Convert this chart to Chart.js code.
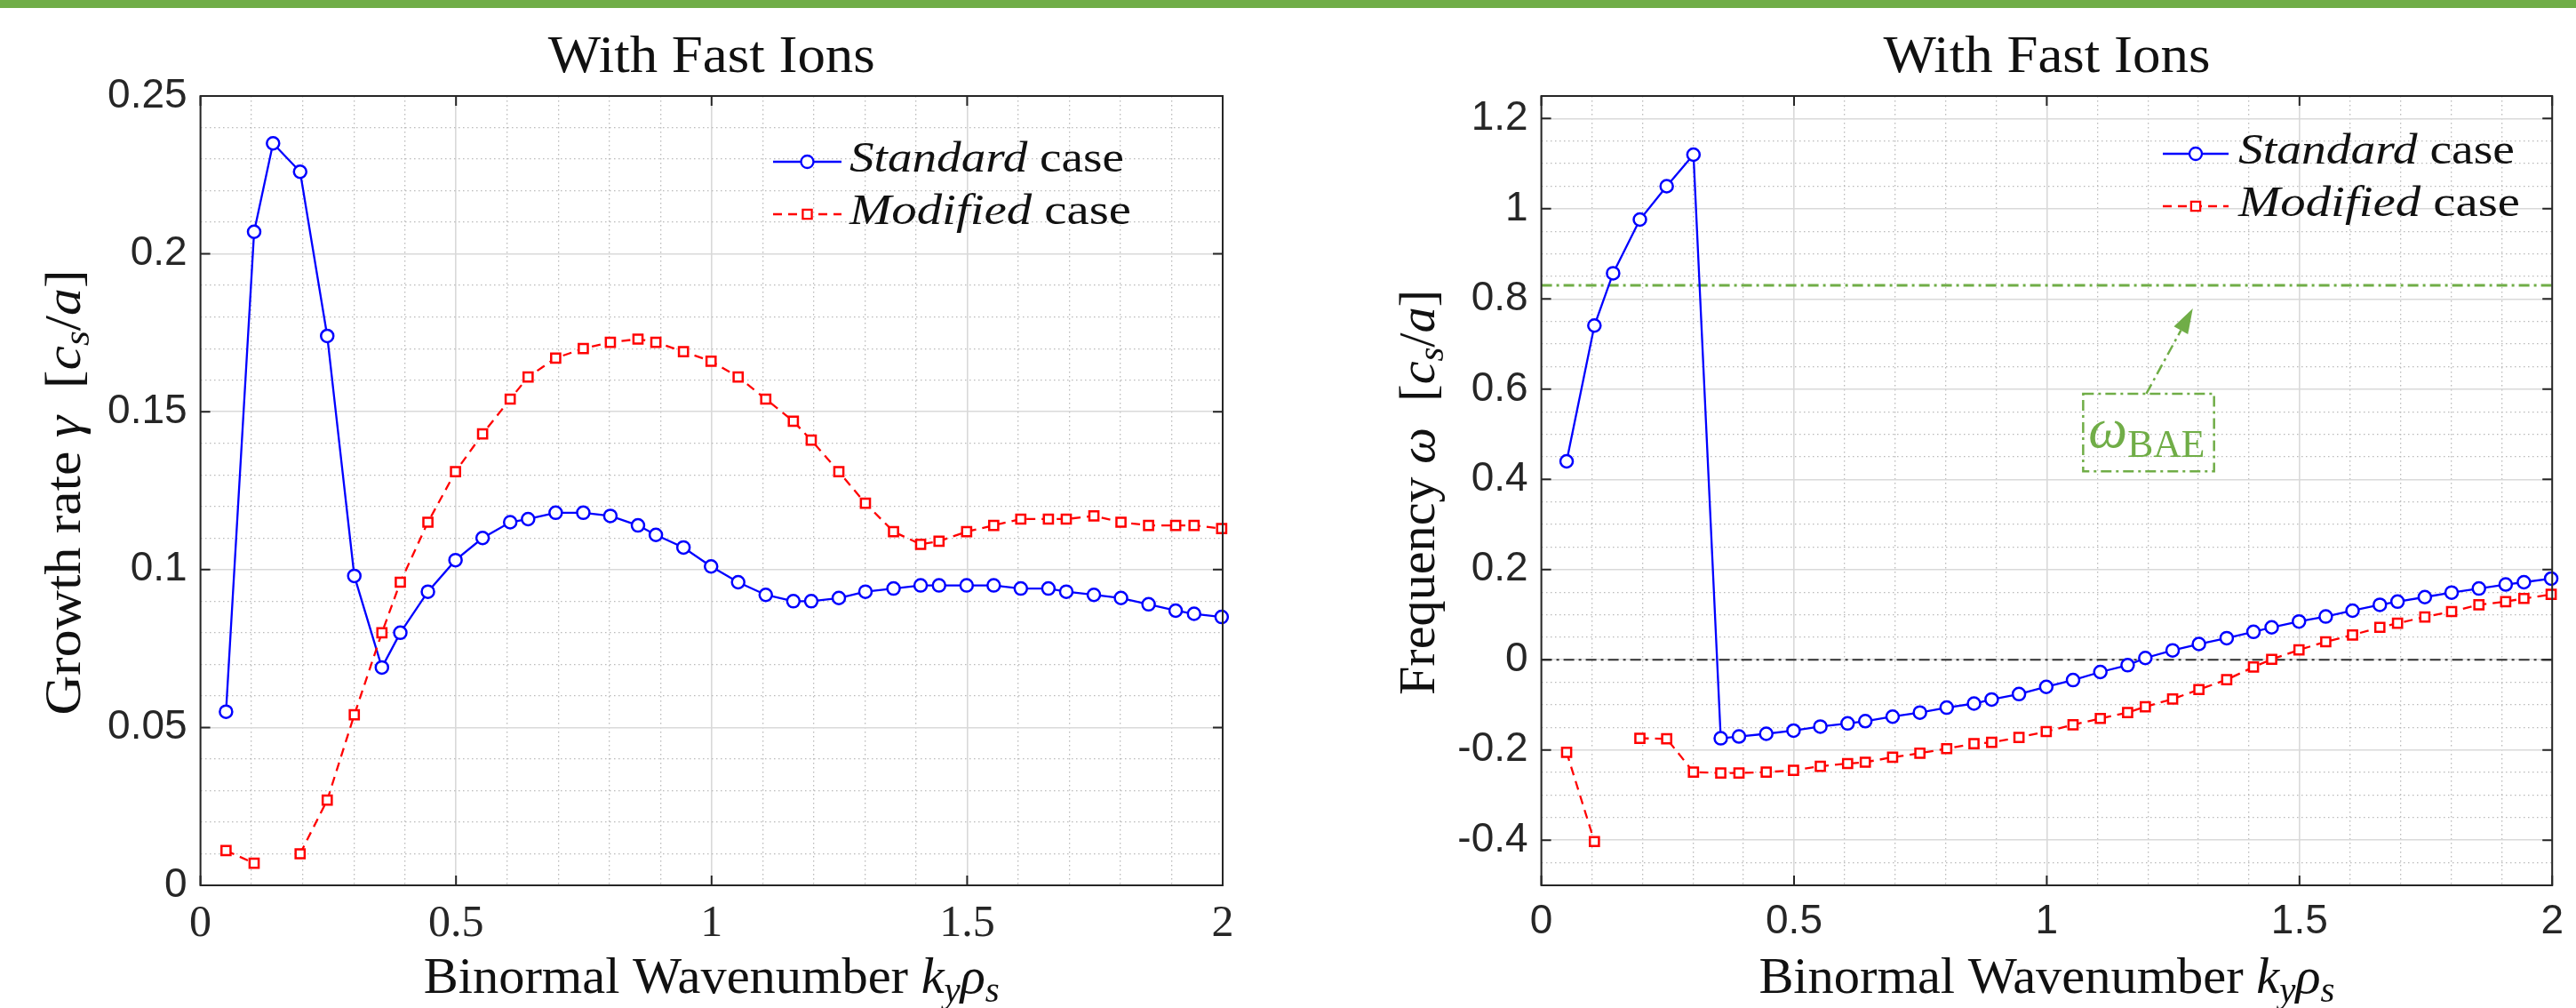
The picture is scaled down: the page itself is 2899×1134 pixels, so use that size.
<!DOCTYPE html>
<html>
<head>
<meta charset="utf-8">
<title>With Fast Ions</title>
<script src="https://cdn.jsdelivr.net/npm/chart.js@4.4.1/dist/chart.umd.min.js"></script>
<style>
  html, body { margin: 0; padding: 0; background: #fff; }
  body { width: 2899px; height: 1134px; position: relative; overflow: hidden; }
  .topbar { position: absolute; left: 0; top: 0; width: 2899px; height: 9px; background: #70ad47; }
  .panel { position: absolute; top: 0; width: 1450px; height: 1134px; }
  #leftPanel { left: 0; }
  #rightPanel { left: 1449px; }
</style>
</head>
<body>
<div class="topbar"></div>
<div class="panel" id="leftPanel"><canvas id="growthChart"></canvas></div>
<div class="panel" id="rightPanel"><canvas id="freqChart"></canvas></div>
<script>
// binormal wavenumber k_y rho_s
var ky = [0.05, 0.105, 0.142, 0.195, 0.248, 0.301, 0.355, 0.391, 0.445, 0.499,
          0.552, 0.606, 0.641, 0.695, 0.749, 0.802, 0.856, 0.891, 0.945, 0.999,
          1.052, 1.106, 1.16, 1.195, 1.249, 1.301, 1.356, 1.409, 1.445, 1.499,
          1.552, 1.605, 1.659, 1.694, 1.748, 1.801, 1.855, 1.908, 1.944, 1.998];

// growth rate gamma [c_s/a]
var gammaStandard = [0.055, 0.207, 0.235, 0.226, 0.174, 0.098, 0.069, 0.080, 0.093, 0.103,
                     0.110, 0.115, 0.116, 0.118, 0.118, 0.117, 0.114, 0.111, 0.107, 0.101,
                     0.096, 0.092, 0.090, 0.090, 0.091, 0.093, 0.094, 0.095, 0.095, 0.095,
                     0.095, 0.094, 0.094, 0.093, 0.092, 0.091, 0.089, 0.087, 0.086, 0.085];
var gammaModified = [0.011, 0.007, null, 0.010, 0.027, 0.054, 0.080, 0.096, 0.115, 0.131,
                     0.143, 0.154, 0.161, 0.167, 0.170, 0.172, 0.173, 0.172, 0.169, 0.166,
                     0.161, 0.154, 0.147, 0.141, 0.131, 0.121, 0.112, 0.108, 0.109, 0.112,
                     0.114, 0.116, 0.116, 0.116, 0.117, 0.115, 0.114, 0.114, 0.114, 0.113];

// real frequency omega [c_s/a]
var omegaStandard = [0.44, 0.741, 0.857, 0.976, 1.05, 1.12, -0.174, -0.170, -0.164, -0.157,
                     -0.148, -0.141, -0.136, -0.126, -0.117, -0.106, -0.097, -0.088, -0.076, -0.060,
                     -0.045, -0.027, -0.012, 0.004, 0.021, 0.035, 0.048, 0.062, 0.072, 0.085,
                     0.096, 0.109, 0.122, 0.129, 0.139, 0.149, 0.158, 0.167, 0.172, 0.180];
var omegaModified = [-0.205, -0.403, null, -0.174, -0.175, -0.249, -0.251, -0.251, -0.249, -0.245,
                     -0.236, -0.230, -0.227, -0.216, -0.207, -0.197, -0.186, -0.183, -0.172, -0.159,
                     -0.144, -0.130, -0.117, -0.104, -0.087, -0.066, -0.044, -0.016, 0.001, 0.022,
                     0.040, 0.055, 0.072, 0.081, 0.095, 0.107, 0.122, 0.129, 0.136, 0.145];

// BAE frequency and the zero reference
var omegaBAE = 0.83;
var omegaZero = 0;
var kyRange = [0, 2];

// major tick labels
var xTickLabels = [0, 0.5, 1, 1.5, 2];
var gammaTickLabels = [0, 0.05, 0.1, 0.15, 0.2, 0.25];
var omegaTickLabels = [-0.4, -0.2, 0, 0.2, 0.4, 0.6, 0.8, 1, 1.2];

// omega_BAE label box and arrow, in data units
var baeBox = { x0: 1.072, x1: 1.331, y0: 0.418, y1: 0.590 };
var baeArrow = { x0: 1.197, y0: 0.590, x1: 1.289, y1: 0.779 };

var SERIF = '"Liberation Serif", "Times New Roman", serif';
var SANS = '"Liberation Sans", Arial, sans-serif';
var BLUE = '#0000ff', RED = '#ff0000', GREEN = '#70ad47', AXIS = '#262626';
var DASHDOT = [12, 5, 3, 5];

function near(v, list) {
  return list.some(function (t) { return Math.abs(t - v) < 1e-6; });
}

// rich text: [text, style]  r = roman, i = italic, si/sr = subscript
function segFont(s, size) {
  var st = s[1] || 'r';
  var sz = st.charAt(0) === 's' ? size * 0.7 : size;
  return (st.indexOf('i') >= 0 ? 'italic ' : '') + Math.round(sz) + 'px ' + SERIF;
}
function richWidth(ctx, segs, size) {
  var w = 0;
  segs.forEach(function (s) { ctx.font = segFont(s, size); w += ctx.measureText(s[0]).width; });
  return w;
}
// fit: optional total width, the run is stretched horizontally to it
function drawRich(ctx, segs, x, y, size, align, fit) {
  var w = richWidth(ctx, segs, size);
  var sx = fit ? fit / w : 1;
  var tw = w * sx;
  var left = align === 'center' ? x - tw / 2 : (align === 'right' ? x - tw : x);
  ctx.save();
  ctx.translate(left, y);
  ctx.scale(sx, 1);
  ctx.textAlign = 'left';
  ctx.textBaseline = 'alphabetic';
  var cx = 0;
  segs.forEach(function (s) {
    ctx.font = segFont(s, size);
    var dy = (s[1] || 'r').charAt(0) === 's' ? size * 0.18 : 0;
    ctx.fillText(s[0], cx, dy);
    cx += ctx.measureText(s[0]).width;
  });
  ctx.restore();
}

function series(label, ys, color, dash, marker, radius) {
  return {
    label: label,
    data: ky.map(function (x, i) { return { x: x, y: ys[i] }; }),
    borderColor: color,
    borderWidth: 2.3,
    borderDash: dash,
    pointStyle: marker,
    pointRadius: radius,
    pointHoverRadius: radius,
    pointBorderWidth: 2.5,
    pointBorderColor: color,
    pointBackgroundColor: '#ffffff',
    tension: 0,
    spanGaps: false,
    fill: false,
    clip: false
  };
}

function refLine(y, color, width) {
  return {
    label: 'ref',
    data: kyRange.map(function (x) { return { x: x, y: y }; }),
    borderColor: color,
    borderWidth: width,
    borderDash: DASHDOT,
    pointRadius: 0,
    fill: false,
    order: 5
  };
}

function gridOpts(isMajor) {
  return {
    drawTicks: false,
    color: function (c) { return c.tick && isMajor(c.tick.value) ? '#d9d9d9' : '#bababa'; },
    lineWidth: function (c) { return c.tick && isMajor(c.tick.value) ? 1.6 : 1.3; }
  };
}
function borderOpts(isMajor) {
  return {
    display: false,
    dash: function (c) { return c.tick && !isMajor(c.tick.value) ? [1.5, 3.5] : []; }
  };
}

function xScale(tickFont) {
  var isMajor = function (v) { return Math.round(v * 10) % 5 === 0; };
  return {
    type: 'linear', min: kyRange[0], max: kyRange[1],
    afterFit: function (s) { s.height = 138; },
    grid: gridOpts(isMajor),
    border: borderOpts(isMajor),
    ticks: {
      stepSize: 0.1, autoSkip: false, maxRotation: 0, padding: 14,
      color: AXIS, font: tickFont,
      callback: function (v) { return near(v, xTickLabels) ? String(Math.round(v * 10) / 10) : ''; }
    }
  };
}

function yScale(min, max, step, labels, width) {
  var isMajor = function (v) { return near(v, labels) || Math.abs(v) < 1e-9; };
  return {
    type: 'linear', min: min, max: max,
    afterFit: function (s) { s.width = width; },
    grid: gridOpts(isMajor),
    border: borderOpts(isMajor),
    ticks: {
      stepSize: step, autoSkip: false, padding: 15,
      color: AXIS, font: { family: SANS, size: 46 },
      callback: function (v) { return near(v, labels) ? String(Math.round(v * 100) / 100) : ''; }
    }
  };
}

// axes box, inward ticks, titles and legend drawn in MATLAB style
function makeFrame(cfg) {
  return {
    id: 'frame',
    afterDraw: function (chart) {
      var ctx = chart.ctx, a = chart.chartArea;
      var xs = chart.scales.x, ys = chart.scales.y;
      ctx.save();

      if (cfg.extra) cfg.extra(chart, ctx);

      ctx.strokeStyle = AXIS;
      ctx.lineWidth = 2;
      ctx.setLineDash([]);
      ctx.beginPath();
      xTickLabels.forEach(function (v) {
        var p = xs.getPixelForValue(v);
        ctx.moveTo(p, a.bottom); ctx.lineTo(p, a.bottom - 11);
        ctx.moveTo(p, a.top); ctx.lineTo(p, a.top + 11);
      });
      cfg.yTicks.forEach(function (v) {
        var p = ys.getPixelForValue(v);
        ctx.moveTo(a.left, p); ctx.lineTo(a.left + 11, p);
        ctx.moveTo(a.right, p); ctx.lineTo(a.right - 11, p);
      });
      ctx.stroke();
      ctx.strokeRect(a.left, a.top, a.right - a.left, a.bottom - a.top);

      var cx = (a.left + a.right) / 2;
      ctx.fillStyle = '#111';
      drawRich(ctx, [['With Fast Ions', 'r']], cx, 81, 60, 'center', 368);
      drawRich(ctx, cfg.xTitle, cx, 1117, 57, 'center', 648);
      ctx.save();
      ctx.translate(cfg.yTitleX, (a.top + a.bottom) / 2 + 2);
      ctx.rotate(-Math.PI / 2);
      drawRich(ctx, cfg.yTitle, 0, 0, 57, 'center', cfg.yTitleLen);
      ctx.restore();

      // legend
      var L = cfg.legend;
      var dsets = chart.data.datasets;
      [0, 1].forEach(function (i) {
        var ds = dsets[i];
        var y = L.rows[i];
        ctx.strokeStyle = ds.borderColor;
        ctx.lineWidth = 2.3;
        ctx.setLineDash(ds.borderDash || []);
        ctx.beginPath(); ctx.moveTo(L.x0, y); ctx.lineTo(L.x1, y); ctx.stroke();
        ctx.setLineDash([]);
        ctx.fillStyle = '#ffffff';
        Chart.helpers.drawPoint(ctx, { pointStyle: ds.pointStyle, radius: ds.pointRadius, borderWidth: 2.5, rotation: 0 }, (L.x0 + L.x1) / 2, y);
        ctx.fillStyle = '#111';
        drawRich(ctx, [[ds.label, 'i'], [' case', 'r']], L.tx, y + 11, 48, 'left', L.widths[i]);
      });
      ctx.restore();
    }
  };
}

function drawBAE(chart, ctx) {
  var xs = chart.scales.x, ys = chart.scales.y;
  var bx0 = xs.getPixelForValue(baeBox.x0), bx1 = xs.getPixelForValue(baeBox.x1);
  var by0 = ys.getPixelForValue(baeBox.y1), by1 = ys.getPixelForValue(baeBox.y0);
  ctx.strokeStyle = GREEN;
  ctx.fillStyle = GREEN;
  ctx.lineWidth = 2.5;
  ctx.setLineDash(DASHDOT);
  ctx.strokeRect(bx0, by0, bx1 - bx0, by1 - by0);

  var ax0 = xs.getPixelForValue(baeArrow.x0), ay0 = ys.getPixelForValue(baeArrow.y0);
  var ax1 = xs.getPixelForValue(baeArrow.x1), ay1 = ys.getPixelForValue(baeArrow.y1);
  var ang = Math.atan2(ay1 - ay0, ax1 - ax0);
  var head = 28, half = 9;
  var hx = ax1 - head * Math.cos(ang), hy = ay1 - head * Math.sin(ang);
  ctx.beginPath(); ctx.moveTo(ax0, ay0); ctx.lineTo(hx, hy); ctx.stroke();
  ctx.setLineDash([]);
  ctx.beginPath();
  ctx.moveTo(ax1, ay1);
  ctx.lineTo(hx + half * Math.sin(ang), hy - half * Math.cos(ang));
  ctx.lineTo(hx - half * Math.sin(ang), hy + half * Math.cos(ang));
  ctx.closePath();
  ctx.fill();

  drawRich(ctx, [['\u03c9', 'i'], ['BAE', 'sr']], bx0 + 6, by0 + 60, 64, 'left', 131);
}

var commonOpts = {
  responsive: true,
  maintainAspectRatio: false,
  animation: false,
  events: [],
  plugins: { legend: { display: false }, tooltip: { enabled: false }, title: { display: false } }
};

new Chart(document.getElementById('growthChart'), {
  type: 'line',
  data: {
    datasets: [
      Object.assign(series('Standard', gammaStandard, BLUE, [], 'circle', 7), { order: 2 }),
      Object.assign(series('Modified', gammaModified, RED, [10, 7], 'rect', 7.2), { order: 1 })
    ]
  },
  options: Object.assign({}, commonOpts, {
    layout: { padding: { left: 95.6, top: 108, right: 74, bottom: 0 } },
    scales: {
      x: xScale({ family: SERIF, size: 50 }),
      y: yScale(0, 0.25, 0.01, gammaTickLabels, 130)
    }
  }),
  plugins: [makeFrame({
    yTicks: gammaTickLabels,
    xTitle: [['Binormal Wavenumber ', 'r'], ['k', 'i'], ['y', 'si'], ['\u03c1', 'i'], ['s', 'si']],
    yTitle: [['Growth rate ', 'r'], ['\u03b3', 'i'], ['  [', 'r'], ['c', 'i'], ['s', 'si'], ['/', 'r'], ['a', 'i'], [']', 'r']],
    yTitleX: 90, yTitleLen: 501,
    legend: { x0: 870, x1: 947, rows: [182, 241], tx: 956, widths: [309, 317] }
  })]
});

new Chart(document.getElementById('freqChart'), {
  type: 'line',
  data: {
    datasets: [
      Object.assign(series('Standard', omegaStandard, BLUE, [], 'circle', 7), { order: 2 }),
      Object.assign(series('Modified', omegaModified, RED, [10, 7], 'rect', 7.2), { order: 1 }),
      refLine(omegaBAE, GREEN, 3),
      refLine(omegaZero, '#333333', 2)
    ]
  },
  options: Object.assign({}, commonOpts, {
    layout: { padding: { left: 155.6, top: 108, right: 14, bottom: 0 } },
    scales: {
      x: xScale({ family: SANS, size: 46 }),
      y: yScale(-0.5, 1.25, 0.05, omegaTickLabels, 130)
    }
  }),
  plugins: [makeFrame({
    yTicks: omegaTickLabels,
    xTitle: [['Binormal Wavenumber ', 'r'], ['k', 'i'], ['y', 'si'], ['\u03c1', 'i'], ['s', 'si']],
    yTitle: [['Frequency ', 'r'], ['\u03c9', 'i'], ['  [', 'r'], ['c', 'i'], ['s', 'si'], ['/', 'r'], ['a', 'i'], [']', 'r']],
    yTitleX: 165, yTitleLen: 456,
    legend: { x0: 985, x1: 1059, rows: [173, 232], tx: 1070, widths: [311, 317] },
    extra: drawBAE
  })]
});
</script>
</body>
</html>
